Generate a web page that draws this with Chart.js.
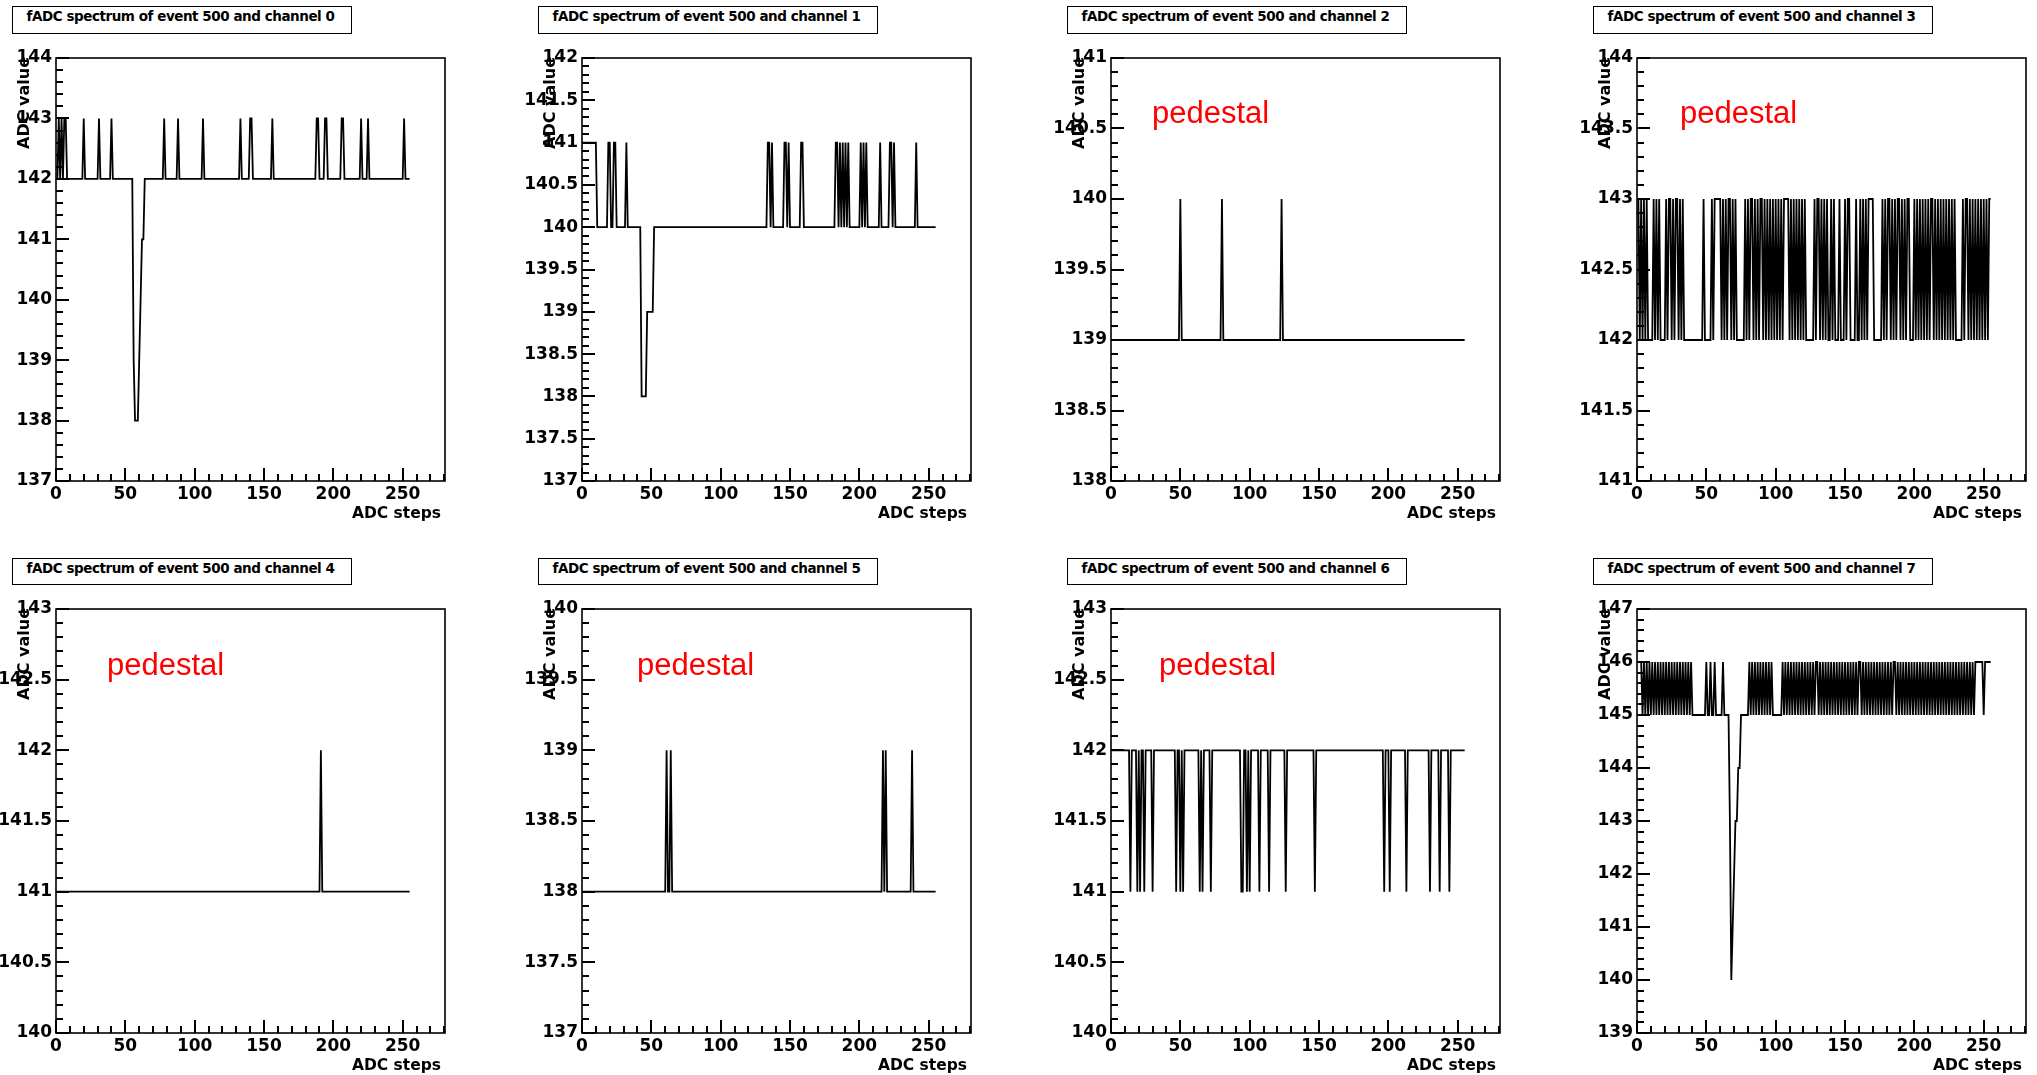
<!DOCTYPE html>
<html>
<head>
<meta charset="utf-8">
<script src="https://cdn.jsdelivr.net/npm/chart.js@4.4.1/dist/chart.umd.min.js"></script>
<style>
  html, body { margin: 0; padding: 0; background: #fff; }
  body { width: 2037px; height: 1075px; overflow: hidden; position: relative; }
  canvas { position: absolute; }
  .tbox { position: absolute; box-sizing: border-box; border: 1.5px solid #000; background: #fff; width: 340px; }
  .ttxt { position: absolute; left: 13.5px; font: bold 13.5px 'DejaVu Sans', sans-serif; letter-spacing: -0.45px; line-height: 1; white-space: nowrap; color: #000; }
  .ytitle { position: absolute; width: 200px; text-align: right; font: bold 16px 'DejaVu Sans', sans-serif; line-height: 1; white-space: nowrap; color: #000; transform-origin: 0 0; transform: rotate(-90deg); }
  .xtitle { position: absolute; width: 200px; text-align: right; font: bold 15.5px 'DejaVu Sans', sans-serif; line-height: 1; white-space: nowrap; color: #000; }
  .ped { position: absolute; font: 31px 'Liberation Sans', Arial, sans-serif; line-height: 1; color: #ff0000; white-space: nowrap; }
</style>
</head>
<body>
<script>
// ---- fADC traces of event 500: 256 samples per channel ----
const SAMPLES = 256;
const eventId = 500;
const channelIds = [0, 1, 2, 3, 4, 5, 6, 7];

// resting level of each channel and the level its single-count noise jumps to
const pedestalLevel = [142, 140, 139, 142, 141, 138, 142, 145];
const noiseLevel    = [143, 141, 140, 143, 142, 139, 141, 146];

// sample steps sitting at the noise level
const ch0Noise = [2, 4, 6, 7, 20, 31, 40, 78, 88, 106, 133, 140, 141, 156, 188, 189, 194, 195, 206, 207, 220, 225, 251];
const ch1Noise = [0, 1, 2, 3, 4, 5, 6, 7, 8, 9, 10, 19, 20, 23, 24, 32, 134, 135, 137, 146, 147, 149, 158, 159,
                  183, 184, 186, 188, 190, 192, 201, 203, 205, 215, 222, 223, 225, 241];
const ch2Noise = [50, 80, 123];
const ch3Noise = [0, 1, 3, 5, 7, 12, 14, 16, 21, 23, 24, 26, 28, 29, 31, 33, 48, 54, 56, 57, 58, 59, 60, 62,
                  64, 66, 67, 69, 71, 78, 80, 82, 83, 85, 87, 89, 90, 92, 94, 96, 98, 100, 102, 104, 106, 107,
                  108, 109, 111, 113, 115, 117, 119, 121, 128, 130, 131, 133, 135, 137, 140, 142, 146, 150, 152,
                  153, 158, 161, 163, 165, 167, 168, 169, 170, 177, 179, 181, 182, 184, 186, 188, 189, 191, 193,
                  195, 196, 200, 202, 204, 206, 208, 210, 212, 213, 215, 217, 219, 221, 223, 225, 227, 229, 235,
                  237, 238, 240, 242, 244, 246, 248, 250, 252, 254, 255];
const ch4Noise = [191];
const ch5Noise = [61, 64, 217, 219, 238];
const ch6Noise = [14, 19, 21, 24, 30, 47, 50, 52, 64, 66, 72, 94, 95, 98, 100, 107, 114, 126, 147, 197, 201,
                  213, 230, 237, 244];
const ch7Noise = [0, 1, 2, 3, 5, 7, 9, 11, 13, 15, 17, 19, 21, 23, 25, 27, 29, 31, 33, 35, 37, 39, 50, 53, 56,
                  62, 81, 83, 85, 87, 89, 91, 93, 95, 97, 105, 107, 109, 111, 113, 115, 117, 119, 121, 123, 125,
                  127, 129, 130, 132, 134, 136, 138, 140, 142, 144, 146, 148, 150, 152, 154, 156, 158, 160, 161,
                  163, 165, 167, 169, 171, 173, 175, 177, 179, 181, 183, 185, 186, 188, 190, 192, 194, 196, 198,
                  200, 202, 204, 206, 208, 210, 212, 214, 216, 218, 220, 222, 224, 226, 228, 230, 232, 234, 236,
                  238, 240, 242, 244, 245, 246, 247, 248, 249, 251, 252, 253, 254, 255];

// pulse samples: [step, ADC value]
const ch0Pulse = [[56, 139], [57, 138], [58, 138], [59, 138], [60, 139], [61, 140], [62, 141], [63, 141]];
const ch1Pulse = [[43, 138], [44, 138], [45, 138], [46, 138], [47, 139], [48, 139], [49, 139], [50, 139], [51, 139]];
const ch7Pulse = [[67, 143], [68, 140], [69, 141], [70, 142], [71, 143], [72, 143], [73, 144], [74, 144]];

const noiseSteps   = [ch0Noise, ch1Noise, ch2Noise, ch3Noise, ch4Noise, ch5Noise, ch6Noise, ch7Noise];
const pulseSamples = [ch0Pulse, ch1Pulse, [], [], [], [], [], ch7Pulse];

// axis ranges and tick steps
const yMin        = [137, 137, 138, 141, 140, 137, 140, 139];
const yMax        = [144, 142, 141, 144, 143, 140, 143, 147];
const yMajorStep  = [1, 0.5, 0.5, 0.5, 0.5, 0.5, 0.5, 1];
const yMinorStep  = [0.2, 0.1, 0.1, 0.1, 0.1, 0.1, 0.1, 0.2];
const xMin = 0, xMax = 280.5;
const xLabelValues = [0, 50, 100, 150, 200, 250];
const xMinorStep = 10;

// channels carrying the "pedestal" note
const pedestalChannels = [2, 3, 4, 5, 6];

// ---- page layout (pixels) ----
const plotLeft = [56, 582, 1111, 1637];
const plotTop = [58, 609];
const plotHeight = [423, 424];
const plotWidth = 389;
const titleTop = [6, 558];
const titleHeight = [28, 27];
const pedLeft = { 2: 1152, 3: 1680, 4: 107, 5: 637, 6: 1159 };
const pedBaseline = [123, 675];
const ML = 60, MT = 12, MR = 8, MB = 34;   // canvas margins around the frame

const tickFont = { family: "'DejaVu Sans', sans-serif", weight: 'bold', size: 17 };

function buildTrace(ch) {
  const vals = new Array(SAMPLES).fill(pedestalLevel[ch]);
  noiseSteps[ch].forEach(i => { vals[i] = noiseLevel[ch]; });
  pulseSamples[ch].forEach(([i, v]) => { vals[i] = v; });
  return vals.map((v, i) => ({ x: i, y: v }));
}

function stepValues(min, max, step) {
  const n = Math.round((max - min) / step);
  const out = [];
  for (let i = 0; i <= n; i++) out.push(+(min + i * step).toFixed(4));
  return out;
}

// frame box and inward tick marks, placed with the chart's own scales
function makeFrame(major, minor) {
  return {
    id: 'rootFrame',
    afterDatasetsDraw(chart) {
      const ctx = chart.ctx;
      const a = chart.chartArea;
      const x = chart.scales.x, y = chart.scales.y;
      ctx.save();
      ctx.fillStyle = '#000';
      // x-axis ticks, pointing up into the frame
      stepValues(xMin, Math.floor(xMax / xMinorStep) * xMinorStep, xMinorStep).forEach(v => {
        const px = Math.round(x.getPixelForValue(v));
        const len = xLabelValues.indexOf(v) >= 0 ? 13 : 7;
        ctx.fillRect(px - 1, a.bottom - len, 2, len);
      });
      // y-axis ticks, pointing right into the frame
      const majors = stepValues(y.min, y.max, major);
      stepValues(y.min, y.max, minor).forEach(v => {
        const py = Math.round(y.getPixelForValue(v));
        const isMajor = majors.some(m => Math.abs(m - v) < 1e-6);
        const len = isMajor ? 13 : 7;
        ctx.fillRect(a.left, py - 1, len, 2);
      });
      ctx.strokeStyle = '#000';
      ctx.lineWidth = 1.6;
      ctx.strokeRect(a.left, a.top, a.right - a.left, a.bottom - a.top);
      ctx.restore();
    }
  };
}

function addDiv(cls, text, left, top) {
  const d = document.createElement('div');
  d.className = cls;
  d.textContent = text;
  d.style.left = left + 'px';
  d.style.top = top + 'px';
  document.body.appendChild(d);
  return d;
}

channelIds.forEach(ch => {
  const col = ch % 4, row = Math.floor(ch / 4);
  const L = plotLeft[col], T = plotTop[row], H = plotHeight[row], W = plotWidth;

  const cv = document.createElement('canvas');
  const cw = W + ML + MR, chh = H + MT + MB;
  cv.width = cw; cv.height = chh;
  cv.style.width = cw + 'px'; cv.style.height = chh + 'px';
  cv.style.left = (L - ML) + 'px';
  cv.style.top = (T - MT) + 'px';
  document.body.appendChild(cv);

  const yMajors = stepValues(yMin[ch], yMax[ch], yMajorStep[ch]);

  new Chart(cv, {
    type: 'line',
    data: {
      datasets: [{
        label: 'channel ' + ch,
        data: buildTrace(ch),
        borderColor: '#000',
        borderWidth: 1.8,
        pointRadius: 0,
        tension: 0,
        fill: false
      }]
    },
    options: {
      responsive: false,
      animation: false,
      devicePixelRatio: 1,
      events: [],
      layout: { padding: { left: 0, top: MT, right: MR, bottom: 0 } },
      plugins: {
        legend: { display: false },
        tooltip: { enabled: false }
      },
      scales: {
        x: {
          type: 'linear', min: xMin, max: xMax,
          afterBuildTicks: s => { s.ticks = xLabelValues.map(v => ({ value: v })); },
          afterFit: s => { s.height = MB; s.paddingLeft = 0; s.paddingRight = 0; },
          grid: { display: false, drawTicks: false },
          border: { display: false },
          ticks: { font: tickFont, color: '#000', padding: 3.5, maxRotation: 0, autoSkip: false,
                   callback: v => String(v) }
        },
        y: {
          type: 'linear', min: yMin[ch], max: yMax[ch],
          afterBuildTicks: s => { s.ticks = yMajors.map(v => ({ value: v })); },
          afterFit: s => { s.width = ML; s.paddingTop = 0; s.paddingBottom = 0; },
          grid: { display: false, drawTicks: false },
          border: { display: false },
          ticks: { font: tickFont, color: '#000', padding: 4, autoSkip: false,
                   callback: v => Number.isInteger(v) ? String(v) : v.toFixed(1) }
        }
      }
    },
    plugins: [makeFrame(yMajorStep[ch], yMinorStep[ch])]
  });

  // title box
  const box = document.createElement('div');
  box.className = 'tbox';
  box.style.left = (L - 44) + 'px';
  box.style.top = titleTop[row] + 'px';
  box.style.height = titleHeight[row] + 'px';
  const tt = document.createElement('div');
  tt.className = 'ttxt';
  tt.textContent = 'fADC spectrum of event ' + eventId + ' and channel ' + ch;
  tt.style.top = (titleHeight[row] / 2 - 10.7) + 'px';
  box.appendChild(tt);
  document.body.appendChild(box);

  // axis titles
  addDiv('ytitle', 'ADC value', L - 40, T - 1 + 200);
  addDiv('xtitle', 'ADC steps', L + W - 4 - 200, T + H + 38 - 13.1);

  if (pedestalChannels.includes(ch)) {
    addDiv('ped', 'pedestal', pedLeft[ch], pedBaseline[row] - 26.2);
  }
});
</script>
</body>
</html>
